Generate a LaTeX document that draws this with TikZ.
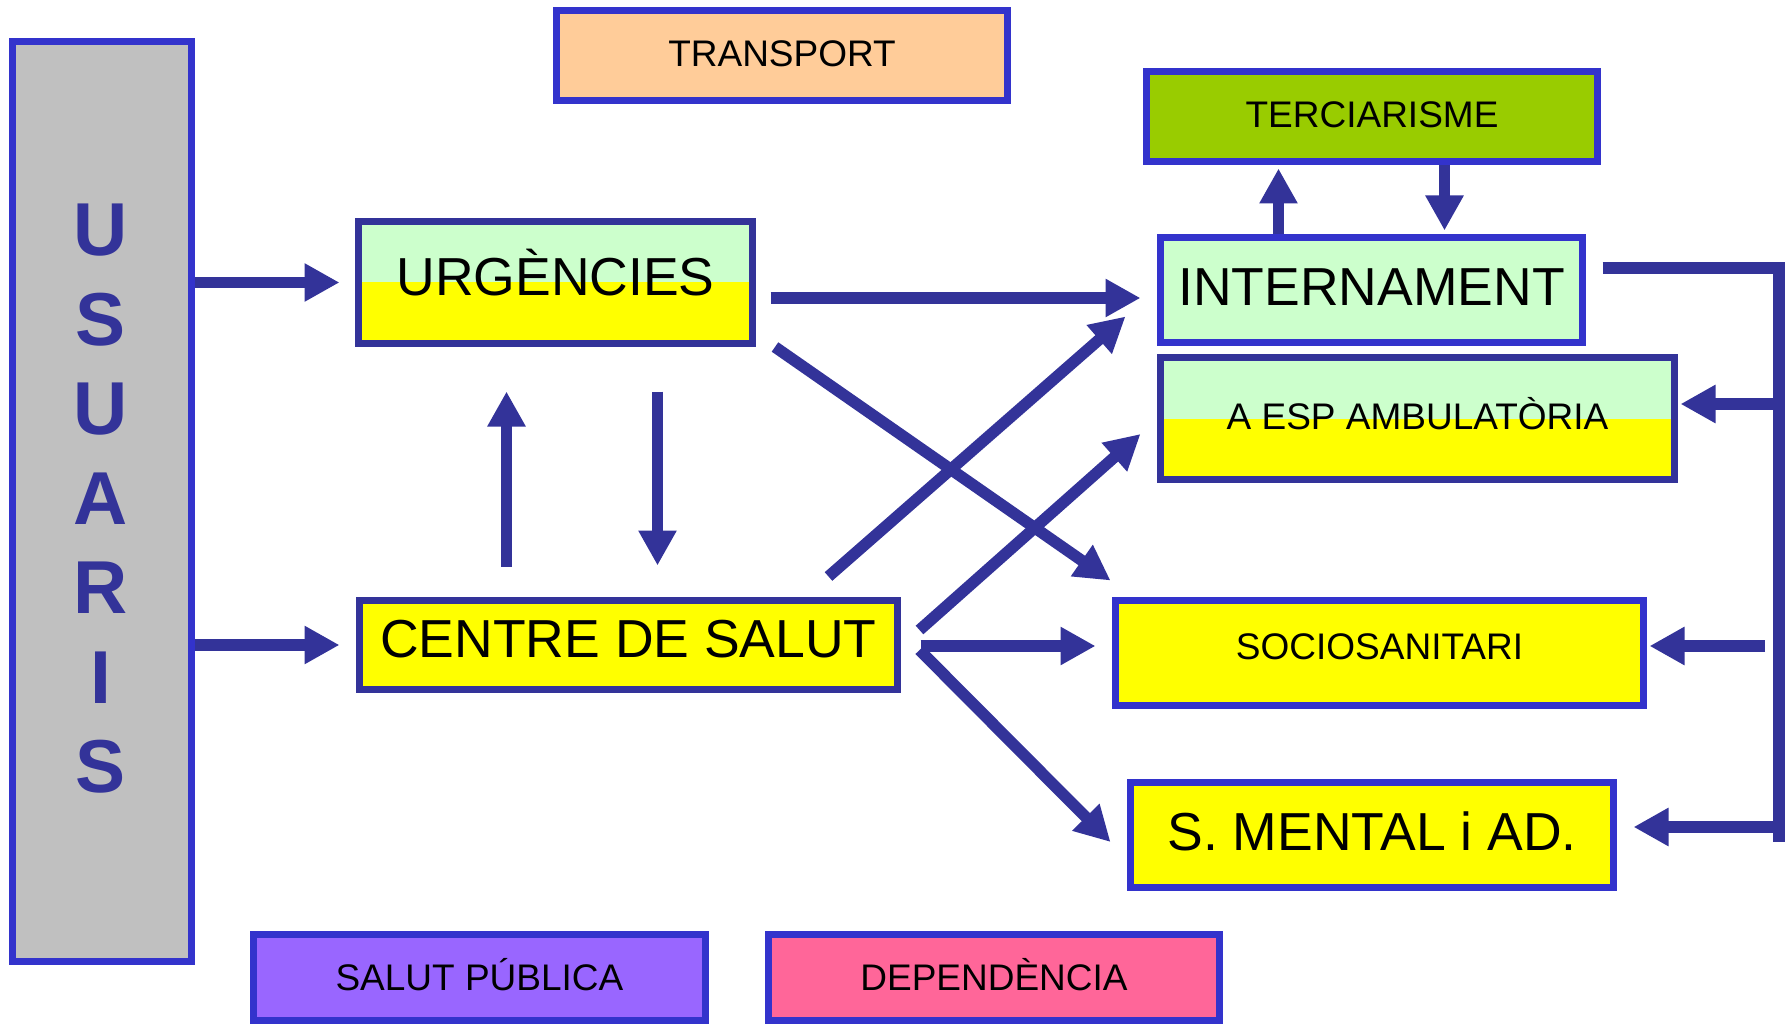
\documentclass[tikz,border=0pt]{standalone}
\usepackage{fontspec}
\setmainfont{Liberation Sans}
\usetikzlibrary{arrows.meta}
\definecolor{bord}{HTML}{3333CC}
\definecolor{dark}{HTML}{333399}
\definecolor{mint}{HTML}{CCFFCC}
\definecolor{yel}{HTML}{FFFF00}
\definecolor{grayfill}{HTML}{C0C0C0}
\definecolor{peach}{HTML}{FFCC99}
\definecolor{lime}{HTML}{99CC00}
\definecolor{violet}{HTML}{9966FF}
\definecolor{pinkfill}{HTML}{FF6699}
\begin{document}
\begin{tikzpicture}[x=1pt,y=-1pt,
  box/.style={draw=bord, line width=7pt, inner sep=0pt, text depth=0pt},
  darkbox/.style={box, draw=dark},
  twotone/.style={fill=yel, path picture={\fill[mint] ([shift={(3.5,3.5)}]path picture bounding box.north west) rectangle ([xshift=-3.5pt]path picture bounding box.east);}},
  big/.style={font=\fontsize{53.5}{60}\selectfont, text height=37.5pt},
  small/.style={font=\fontsize{37}{42}\selectfont, text height=26pt},
  conn/.style={draw=dark, line width=11.5pt},
  arr/.style={conn, -{Triangle[length=35pt,width=36pt]}}
]
\useasboundingbox (0,0) rectangle (1791,1024);

% boxes
\node[box, fill=grayfill, minimum width=179pt, minimum height=920pt] (usu) at (102,501.5) {};
\node[inner sep=0pt, align=center, text=dark, font=\fontsize{75}{89.5}\selectfont\bfseries] (usutxt) at ([shift={(-1,-2.5)}]usu.center) {U\\S\\U\\A\\R\\I\\S};

\node[box, small, fill=peach, minimum width=451pt, minimum height=90pt, text depth=4pt] (trans) at (782,55.5) {TRANSPORT};
\node[box, small, fill=lime, minimum width=451pt, minimum height=90pt, text depth=3pt] (terc) at (1372,116.5) {TERCIARISME};
\node[darkbox, big, twotone, minimum width=394pt, minimum height=122pt, text depth=12pt] (urg) at (555.5,282.5) {URGÈNCIES};
\node[box, big, fill=mint, minimum width=422pt, minimum height=105pt, text depth=6pt] (int) at (1371.5,290) {INTERNAMENT};
\node[darkbox, small, twotone, minimum width=514pt, minimum height=122pt, text depth=4pt] (amb) at (1417.5,418.5) {A ESP AMBULATÒRIA};
\node[darkbox, big, fill=yel, minimum width=538pt, minimum height=89pt, text depth=13pt] (cen) at (628.5,645) {CENTRE DE SALUT};
\node[box, small, fill=yel, minimum width=528pt, minimum height=105pt, text depth=14pt] (socio) at (1379.5,653) {SOCIOSANITARI};
\node[box, big, fill=yel, minimum width=483pt, minimum height=105pt, text depth=6pt] (sm) at (1372,835) {S. MENTAL i AD.};
\node[box, small, fill=violet, minimum width=452pt, minimum height=86pt] (sp) at (479.5,977.5) {SALUT PÚBLICA};
\node[box, small, fill=pinkfill, minimum width=451pt, minimum height=86pt] (dep) at (994,977.5) {DEPENDÈNCIA};

% arrows from USUARIS
\draw[arr] (usu.east |- urg.west) -- ([xshift=-15.5pt]urg.west);
\draw[arr] (usu.east |- cen.west) -- ([xshift=-16.5pt]cen.west);

% from URGENCIES
\draw[arr] ([shift={(14.5,15.5)}]urg.east) -- ([shift={(-16.5,8)}]int.west);
\draw[arr] ([shift={(19,0)}]urg.south east) -- ([shift={(-1.5,-16.5)}]socio.north west);

% between URGENCIES and CENTRE
\draw[arr] ([shift={(150.5,-30.5)}]cen.north west) -- ([shift={(151.5,44.5)}]urg.south west);
\draw[arr] ([shift={(302.5,44.5)}]urg.south west) -- ([shift={(301.5,-31.5)}]cen.north west);

% from CENTRE DE SALUT
\draw[arr] ([shift={(472.5,-20.5)}]cen.north west) -- ([shift={(-31.5,-29.5)}]int.south west);
\draw[arr] ([shift={(18.5,-15)}]cen.east) -- ([shift={(-16.5,15.5)}]amb.west);
\draw[arr] ([shift={(19.5,1)}]cen.east) -- ([shift={(-16.5,-7)}]socio.west);
\draw[arr] ([shift={(18.5,5)}]cen.east) -- ([shift={(-16.5,7)}]sm.west);

% INTERNAMENT <-> TERCIARISME
\draw[arr] ([shift={(121.5,0)}]int.north west) -- ([shift={(135.5,3.5)}]terc.south west);
\draw[arr] ([shift={(301.5,0)}]terc.south west) -- ([shift={(287.5,-3.5)}]int.north west);

% right bracket
\coordinate (rtop) at (1779,268);
\coordinate (rbot) at (1779,842);
\coordinate (rsoc) at (1765,646);
\draw[conn, line join=miter] ([shift={(16.5,-22)}]int.east) -- (rtop) -- (rbot);
\draw[arr] (rtop |- 0,404) -- ([shift={(2.5,-14.5)}]amb.east);
\draw[arr] (rsoc) -- ([shift={(2.5,-7)}]socio.east);
\draw[arr] (rtop |- 0,827) -- ([shift={(16.5,-8)}]sm.east);
\end{tikzpicture}
\end{document}
